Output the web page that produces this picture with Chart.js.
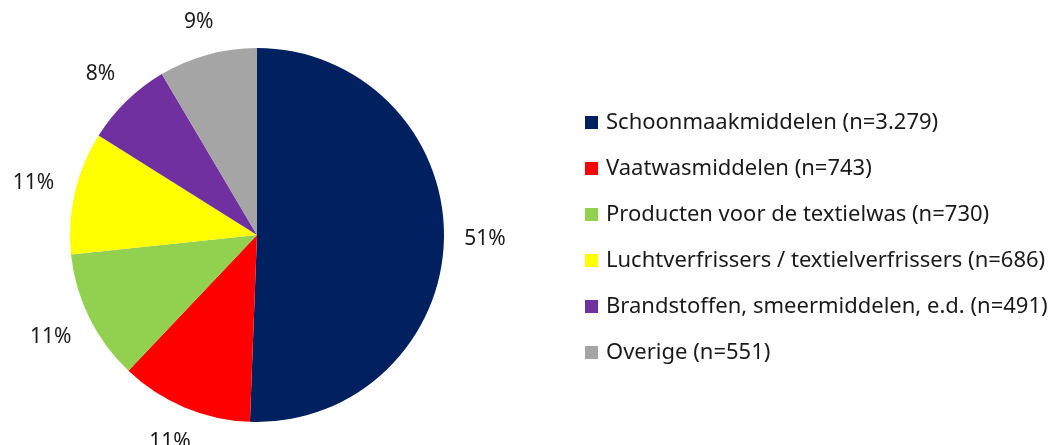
<!DOCTYPE html>
<html>
<head>
<meta charset="utf-8">
<script src="https://cdn.jsdelivr.net/npm/chart.js@4"></script>
<style>
  body { margin: 0; background: #fff; }
  #wrap { width: 1055px; height: 445px; }
</style>
</head>
<body>
<div id="wrap"><canvas id="pie" width="1055" height="445"></canvas></div>
<script>
var categories = [
    'Schoonmaakmiddelen (n=3.279)',
    'Vaatwasmiddelen (n=743)',
    'Producten voor de textielwas (n=730)',
    'Luchtverfrissers / textielverfrissers (n=686)',
    'Brandstoffen, smeermiddelen, e.d. (n=491)',
    'Overige (n=551)'
];
var counts = [3279, 743, 730, 686, 491, 551];
var colors = ['#002060', '#FF0000', '#92D050', '#FFFF00', '#7030A0', '#A5A5A5'];

var FONT = '"Noto Sans", "Open Sans", sans-serif';
var TEXT_COLOR = '#1a1a1a';

// percentage labels outside each slice
var outsideLabels = {
    id: 'outsideLabels',
    afterDatasetsDraw: function(chart) {
        var ctx = chart.ctx;
        var meta = chart.getDatasetMeta(0);
        var total = counts.reduce(function(a, b) { return a + b; }, 0);
        ctx.save();
        ctx.font = '21px ' + FONT;
        ctx.fillStyle = TEXT_COLOR;
        ctx.textAlign = 'center';
        ctx.textBaseline = 'middle';
        meta.data.forEach(function(arc, i) {
            var mid = (arc.startAngle + arc.endAngle) / 2;
            var txt = Math.round(counts[i] / total * 100) + '%';
            var w = ctx.measureText(txt).width;
            var h = 20;
            var ux = Math.cos(mid), uy = Math.sin(mid);
            var d = arc.outerRadius + 20 + Math.abs(ux) * w / 2 + Math.abs(uy) * h / 2;
            ctx.fillText(txt, arc.x + ux * d, arc.y + uy * d);
        });
        ctx.restore();
    }
};

// legend on the right
var sideLegend = {
    id: 'sideLegend',
    afterDraw: function(chart) {
        var ctx = chart.ctx;
        ctx.save();
        ctx.font = '22px ' + FONT;
        ctx.textBaseline = 'middle';
        ctx.textAlign = 'left';
        for (var i = 0; i < categories.length; i++) {
            var y = 122 + i * 46;
            ctx.fillStyle = colors[i];
            ctx.fillRect(585, y - 6, 13, 13);
            ctx.fillStyle = TEXT_COLOR;
            ctx.fillText(categories[i], 606, y + 1);
        }
        ctx.restore();
    }
};

new Chart(document.getElementById('pie'), {
    type: 'pie',
    data: {
        labels: categories,
        datasets: [{
            data: counts,
            backgroundColor: colors,
            borderWidth: 0
        }]
    },
    options: {
        responsive: false,
        animation: false,
        layout: { padding: { left: 70, top: 48, right: 611, bottom: 23 } },
        plugins: {
            legend: { display: false },
            tooltip: { enabled: false }
        }
    },
    plugins: [outsideLabels, sideLegend]
});
</script>
</body>
</html>
